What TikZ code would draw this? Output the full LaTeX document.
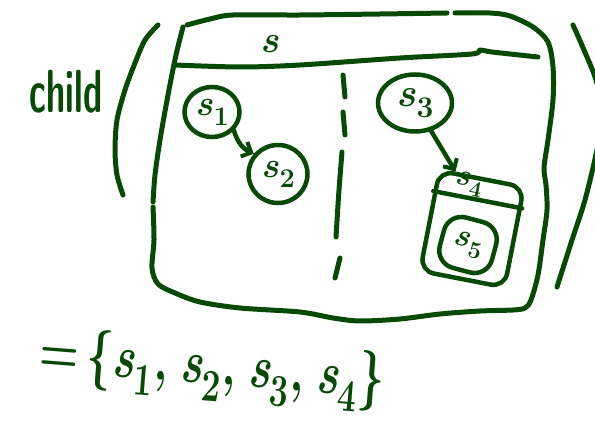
\documentclass[tikz,border=0pt]{standalone}
\usepackage{fontspec}
\usetikzlibrary{arrows.meta,shapes.geometric,calc}
\definecolor{ink}{HTML}{064A06}
\newcommand\sv[1]{\textit{s}\kern0.02em\raisebox{-0.28em}{\scalebox{0.75}{#1}}}
\begin{document}
\begin{tikzpicture}[x=1pt,y=-1pt,
  pen/.style={draw=ink,line width=5pt,line cap=round,line join=round},
  blob/.style={ellipse,draw=ink,line width=4.5pt,inner sep=0pt,text=ink},
  boxnode/.style={rectangle,draw=ink,line width=4.5pt,inner sep=0pt,text=ink},
  arr/.style={draw=ink,line width=4.5pt,line cap=round,-{Straight Barb[length=8pt,width=16pt,line width=4pt]}},
  lab/.style={text=ink,inner sep=0pt}]
\useasboundingbox (0,0) rectangle (595,422);
\clip (0,0) rectangle (595,422);
% left parenthesis
\draw[pen] plot[smooth] coordinates {(158,25) (145,40) (135,63) (125,90) (117,120) (115,150) (117,175) (123,195)};
% right parenthesis
\draw[pen] plot[smooth] coordinates {(573,25) (584,50) (596,80) (603,115) (597,150) (585,200) (572,240) (557,287)};
% big box outline
\draw[pen] plot[smooth] coordinates {(183,27) (176,55) (168,95) (160,140) (155,175) (153,202)};
\draw[pen] plot[smooth] coordinates {(153,207) (154,240) (152,268) (158,284) (175,293) (200,302) (240,308) (300,312) (333,318) (360,321) (400,319) (440,314) (480,311) (513,310) (525,308) (531,300) (538,275) (543,240) (547,210) (546,185) (544,168) (548,140) (553,100) (553,67) (548,42) (533,27) (510,16) (490,13) (455,13)};
\draw[pen] plot[smooth] coordinates {(187,25) (210,19) (233,15) (300,15) (380,14) (447,13)};
% header line
\draw[pen] plot[smooth] coordinates {(175,65) (240,67) (300,65) (400,58) (472,54) (480,50) (492,52) (538,57)};
\node[lab,font=\bfseries\fontsize{38}{38}\selectfont] (S) at (270,44) {\textit{s}};
% dashed divider
\draw[pen] (343,75) -- (345,97);
\draw[pen] (343,112) -- (345,135);
\draw[pen] plot[smooth] coordinates {(342,152) (339,190) (336,237)};
\draw[pen] (340,258) -- (335,278);
% child label
\node[lab,font=\sffamily\bfseries\fontsize{38}{38}\selectfont] (child) at (66,92) {\scalebox{0.9}[1.6]{child}};
% nodes
\node[blob,minimum width=55pt,minimum height=50pt,font=\bfseries\fontsize{36}{36}\selectfont] (s1) at (212,112) {\sv{1}};
\node[blob,minimum width=59pt,minimum height=58pt,font=\bfseries\fontsize{36}{36}\selectfont] (s2) at (278,174) {\sv{2}};
\node[blob,minimum width=74pt,minimum height=57pt,font=\bfseries\fontsize{40}{40}\selectfont] (s3) at (415,103) {\sv{3}};
\node[boxnode,rounded corners=14pt,minimum width=86pt,minimum height=102pt,rotate=-11] (s4) at (472,229) {};
\draw[pen,line width=4.5pt] ($(s4.north west)!0.22!(s4.south west)$) -- ($(s4.north east)!0.22!(s4.south east)$);
\node[lab,rotate=-11,font=\bfseries\fontsize{30}{30}\selectfont] (s4lab) at ($(s4.north)!0.07!(s4.south)+(-12,0)$) {\sv{4}};
\node[boxnode,rounded corners=18pt,minimum width=54pt,minimum height=52pt,rotate=-15,font=\bfseries\fontsize{32}{32}\selectfont] (s5) at (468,245) {\sv{5}};
% connectors
\draw[arr] (s1.-40) to[bend right=25] (s2.140);
\draw[arr] (s3.-60) -- ($(s4.north west)!0.2!(s4.north east)$);
% set formula
\node[lab,rotate=-4.5,font=\bfseries\fontsize{45}{45}\selectfont] (set) at (212,370) {\scalebox{1}[1.35]{=\,\{\sv{1},\kern-0.1em{} \sv{2},\kern-0.1em{} \sv{3},\kern-0.1em{} \sv{4}\}}};
\end{tikzpicture}
\end{document}
